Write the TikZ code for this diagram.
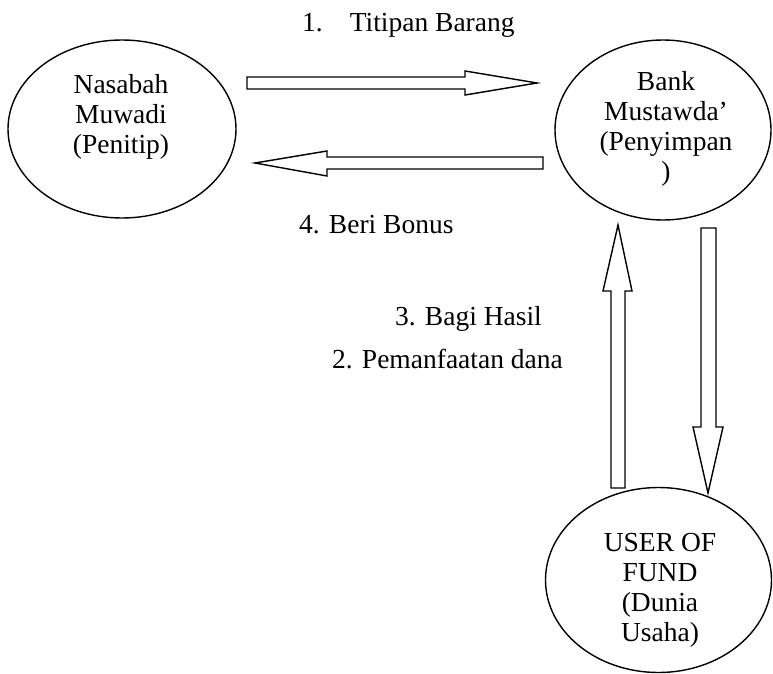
\documentclass[tikz,border=0pt]{standalone}
\usepackage{fontspec}
\setmainfont{Liberation Serif}
\usetikzlibrary{shapes.geometric}
\begin{document}
\begin{tikzpicture}[x=1pt,y=-1pt,
  oval/.style={draw, ellipse, line width=1.4pt, inner sep=0pt},
  blockarrow/.style={draw, line width=1.4pt, fill=white, line join=miter},
  lbl/.style={inner sep=0pt, anchor=base west, font=\fontsize{27.5}{30}\selectfont},
  intext/.style={inner sep=0pt, anchor=north, align=center, font=\fontsize{27.5}{30}\selectfont}]
\useasboundingbox (0,0) rectangle (773,674);
% ellipses
\node[oval, minimum width=228pt, minimum height=178pt] (nasabah) at (122,129) {};
\node[oval, minimum width=216pt, minimum height=180pt] (bank) at (663,130) {};
\node[oval, minimum width=226pt, minimum height=185pt] (user) at (658.5,580) {};
% ellipse texts
\node[intext] (tnasabah) at (121,74) {Nasabah\\Muwadi\\(Penitip)};
\node[intext] (tbank) at (666,71) {Bank\\Mustawda’\\(Penyimpan\\)};
\node[intext] (tuser) at (660,533) {USER OF\\FUND\\(Dunia\\Usaha)};
% block arrows
\draw[blockarrow] (247,77) -- (465,77) -- (465,71) -- (537,83) -- (465,95) -- (465,89) -- (247,89) -- cycle;
\draw[blockarrow] (543,157) -- (327,157) -- (327,151) -- (255,163) -- (327,176) -- (327,169) -- (543,169) -- cycle;
\draw[blockarrow] (611,488) -- (611,291) -- (603,291) -- (618,225) -- (632,291) -- (625,291) -- (625,488) -- cycle;
\draw[blockarrow] (701,228) -- (701,427) -- (693,427) -- (708,493) -- (723,427) -- (716,427) -- (716,228) -- cycle;
% labels
\node[lbl] (l1) at (302,32) {1.\hspace{27pt}Titipan Barang};
\node[lbl] (l4) at (299,233) {4. Beri Bonus};
\node[lbl] (l3) at (395,325) {3. Bagi Hasil};
\node[lbl] (l2) at (332,368) {2. Pemanfaatan dana};
\end{tikzpicture}
\end{document}
